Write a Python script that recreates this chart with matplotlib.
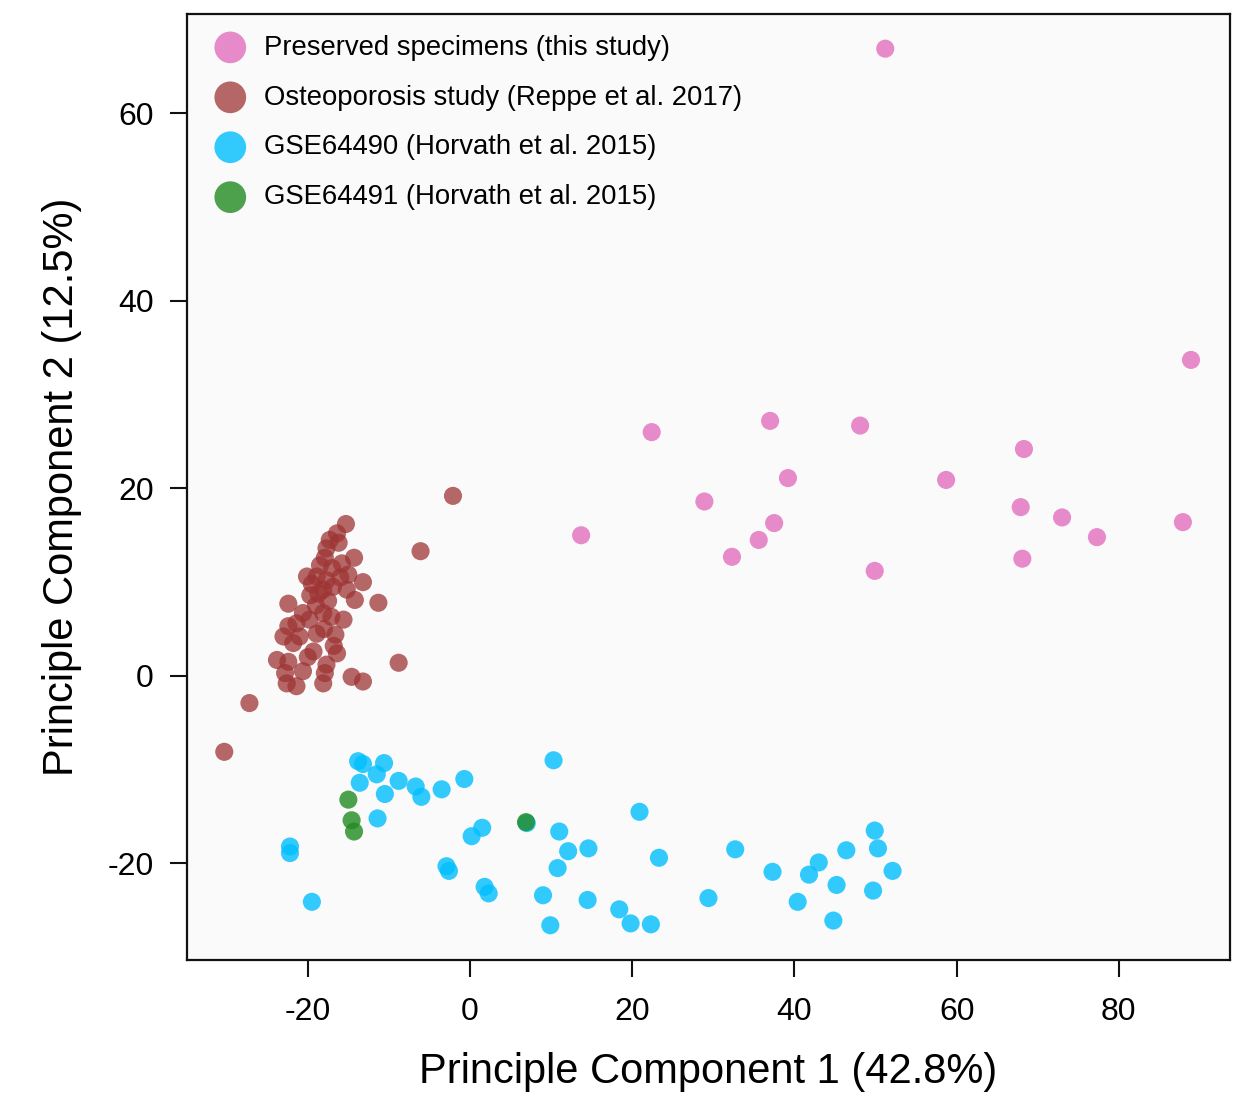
import numpy as np
import matplotlib.pyplot as plt

plt.rcParams['font.family'] = ['Liberation Sans', 'DejaVu Sans']
plt.rcParams['axes.unicode_minus'] = False

# Preserved specimens (this study)
pink_x = [51.2, 88.9, 22.4, 37.0, 48.1, 68.3, 39.2, 58.7, 28.9, 67.9, 73.0, 37.5,
          87.9, 13.7, 77.3, 35.6, 32.3, 68.1, 49.9]
pink_y = [66.9, 33.7, 26.0, 27.2, 26.7, 24.2, 21.1, 20.9, 18.6, 18.0, 16.9, 16.3,
          16.4, 15.0, 14.8, 14.5, 12.7, 12.5, 11.2]

# Osteoporosis study (Reppe et al. 2017)
brown_x = [-2.1, -6.1, -15.3, -16.4, -16.2, -17.7, -17.9, -14.3, -20.1, -18.9, -17.7,
           -15.0, -13.2, -19.7, -18.1, -16.9, -15.2, -14.2, -11.3, -22.4, -20.6, -18.1,
           -15.6, -17.1, -22.4, -21.4, -23.0, -18.9, -16.6, -21.0, -19.3, -16.4, -23.8,
           -22.4, -17.7, -8.8, -20.6, -17.9, -22.8, -14.6, -13.2, -22.6, -21.4, -18.1,
           -27.2, -30.3, -17.0, -18.5, -19.5, -16.0, -17.5, -19.0, -18.0, -16.8, -20.0,
           -21.8, -17.3, -15.8, -19.8, -18.7]
brown_y = [19.2, 13.3, 16.2, 15.2, 14.2, 13.6, 12.6, 12.6, 10.6, 10.6, 10.2,
           10.8, 10.0, 8.6, 9.2, 9.5, 9.2, 8.1, 7.8, 7.7, 6.7, 6.7,
           6.0, 6.3, 5.3, 5.6, 4.2, 4.5, 4.4, 4.2, 2.6, 2.4, 1.7,
           1.5, 1.2, 1.4, 0.5, 0.3, 0.3, -0.1, -0.6, -0.8, -1.1, -0.8,
           -2.9, -8.1, 11.5, 11.8, 9.8, 10.5, 8.0, 7.5, 5.0, 3.2, 2.0,
           3.5, 14.5, 12.0, 6.0, 8.8]

# GSE64490 (Horvath et al. 2015)
blue_x = [-13.8, -13.2, -10.6, -11.5, -13.6, -8.8, -6.7, -6.0, -10.5, -3.5, -0.7,
          10.3, -11.4, 1.5, 0.2, 7.0, 11.0, -22.2, -22.2, -2.9, -2.6, 1.8, 2.3,
          -19.5, 10.8, 9.0, 9.9, 12.1, 20.9, 14.6, 23.3, 14.5, 18.4, 19.8, 22.3,
          29.4, 32.7, 37.3, 41.8, 43.0, 40.4, 45.2, 46.4, 44.8, 49.9, 50.3, 52.1, 49.7]
blue_y = [-9.1, -9.4, -9.3, -10.5, -11.4, -11.2, -11.8, -12.9, -12.6, -12.1, -11.0,
          -9.0, -15.2, -16.2, -17.1, -15.7, -16.6, -18.2, -18.9, -20.3, -20.8, -22.5, -23.2,
          -24.1, -20.5, -23.4, -26.6, -18.7, -14.5, -18.4, -19.4, -23.9, -24.9, -26.4, -26.5,
          -23.7, -18.5, -20.9, -21.2, -19.9, -24.1, -22.3, -18.6, -26.1, -16.5, -18.4, -20.8, -22.9]

# GSE64491 (Horvath et al. 2015)
green_x = [-15.0, -14.6, -14.3, 6.9]
green_y = [-13.2, -15.4, -16.6, -15.6]

fig = plt.figure(figsize=(12.44, 11.01), dpi=100)
fig.patch.set_facecolor('white')
ax = fig.add_axes([0.1503, 0.1281, 0.8384, 0.8592])
ax.set_facecolor('#fafafa')

ms = 170
ax.scatter(pink_x, pink_y, s=ms, color='#e377c2', alpha=0.85, edgecolors='none',
           label='Preserved specimens (this study)')
ax.scatter(brown_x, brown_y, s=ms, color='#9e3434', alpha=0.75, edgecolors='none',
           label='Osteoporosis study (Reppe et al. 2017)')
ax.scatter(blue_x, blue_y, s=ms, color='#00bfff', alpha=0.8, edgecolors='none',
           label='GSE64490 (Horvath et al. 2015)')
ax.scatter(green_x, green_y, s=ms, color='#228b22', alpha=0.8, edgecolors='none',
           label='GSE64491 (Horvath et al. 2015)')

ax.set_xlim(-34.9, 93.7)
ax.set_ylim(-30.3, 70.6)
ax.set_xticks([-20, 0, 20, 40, 60, 80])
ax.set_yticks([-20, 0, 20, 40, 60])
ax.tick_params(axis='both', direction='out', length=12, width=1.5, labelsize=23,
               color='#111111')
ax.tick_params(axis='x', pad=15)
ax.tick_params(axis='y', pad=12)
for s in ax.spines.values():
    s.set_linewidth(1.6)
    s.set_color('#111111')

ax.set_xlabel('Principle Component 1 (42.8%)', fontsize=30, labelpad=18)
ax.set_ylabel('Principle Component 2 (12.5%)', fontsize=30, labelpad=18)

leg = ax.legend(loc='upper left', frameon=False, fontsize=19.8, markerscale=1.75,
                handletextpad=0.4, labelspacing=0.87, borderaxespad=0.35,
                handlelength=1.65, scatterpoints=1)

fig.savefig('out.png', dpi=100)
